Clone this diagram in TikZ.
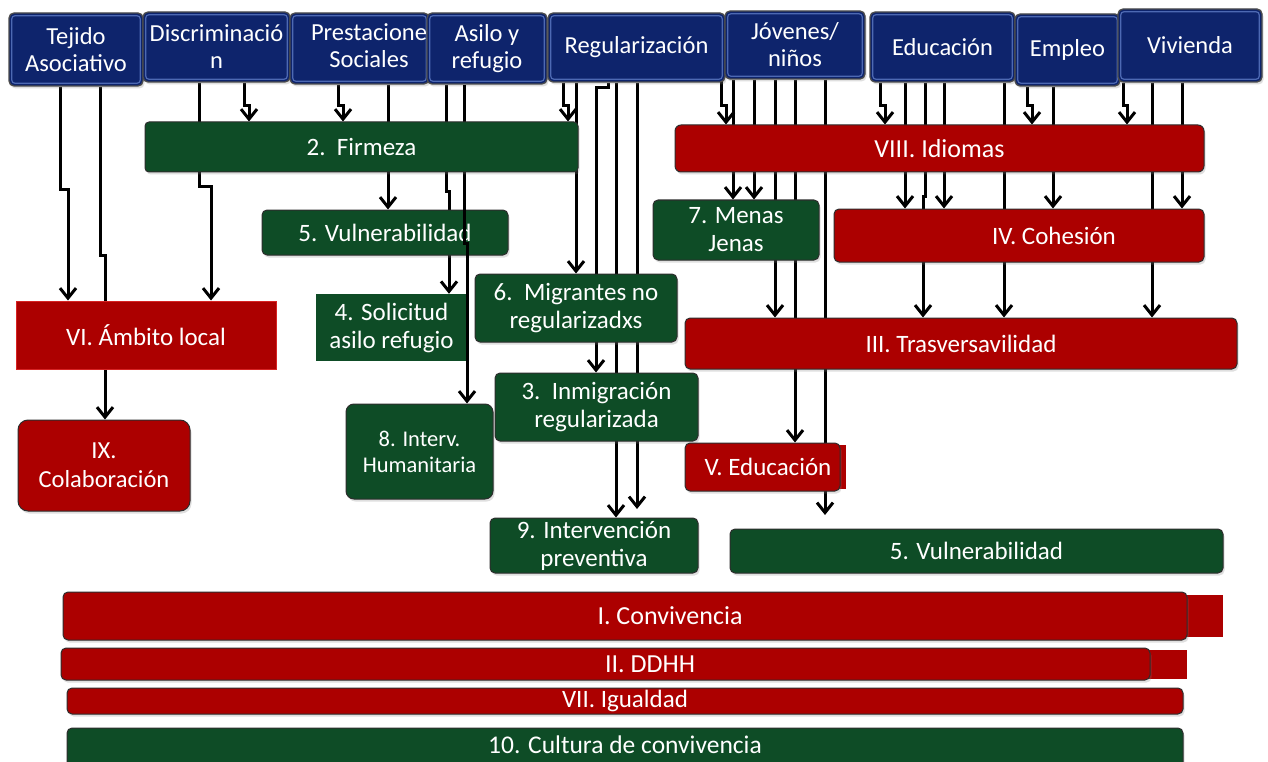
\documentclass[tikz,border=0pt]{standalone}
\usepackage{fontspec}
\setmainfont{Carlito}
\usetikzlibrary{arrows.meta,shadows}
\definecolor{navy}{RGB}{14,36,108}
\definecolor{navyrim}{RGB}{105,135,210}
\definecolor{dgreen}{RGB}{14,76,38}
\definecolor{dred}{RGB}{172,0,0}
\definecolor{lred}{RGB}{215,35,35}
\definecolor{edgec}{RGB}{45,45,45}
\pgfdeclarelayer{bottomlayer}
\pgfdeclarelayer{background}
\pgfsetlayers{bottomlayer,background,main}
\tikzset{
  box/.style={rectangle, inner sep=1pt, text=white, align=center, font=\fontsize{25}{28}\selectfont},
  shade/.style={drop shadow={opacity=0.25, shadow xshift=1.5pt, shadow yshift=-2.5pt}},
  bluebox/.style={box, rounded corners=5pt, fill=navy, draw=edgec!85, line width=1.3pt, shade,
    font=\fontsize{24.5}{27}\selectfont,
    path picture={\draw[navyrim, opacity=0.7, line width=1.2pt, rounded corners=3pt]
      ([shift={(2.8pt,-2.8pt)}]path picture bounding box.north west) rectangle
      ([shift={(-2.8pt,2.8pt)}]path picture bounding box.south east);}},
  toptext/.style={text=white, align=center, inner sep=0pt, font=\fontsize{24.5}{27}\selectfont},
  greenbox/.style={box, rounded corners=5pt, fill=dgreen, draw=edgec, line width=1pt, shade},
  greenflat/.style={box, fill=dgreen},
  redbox/.style={box, rounded corners=5pt, fill=dred, draw=edgec, line width=1pt, shade},
  redflat/.style={box, fill=dred, draw=lred, line width=1pt},
  arr/.style={line width=3pt, black, -{Straight Barb[length=10pt,width=16pt]}},
}
\begin{document}
\begin{tikzpicture}[x=1pt,y=-1pt]
\useasboundingbox (0,0) rectangle (1268,762);
\begin{pgfonlayer}{bottomlayer}
\fill[white] (0,0) rectangle (1268,762);
\end{pgfonlayer}
\clip (0,0) rectangle (1268,762);

% top blue boxes
\node[bluebox, minimum width=134pt, minimum height=73pt] (tej) at (76,49.5) {Tejido\\Asociativo};
\node[bluebox, minimum width=147pt, minimum height=70pt] (dis) at (216.5,47) {Discriminació\\n};
\node[bluebox, minimum width=139pt, minimum height=71pt] (pre) at (359.5,48.5) {};
\node[toptext] (pretxt) at (369,46) {Prestacione\\Sociales};
\node[bluebox, minimum width=120pt, minimum height=71pt] (asi) at (487,48.5) {Asilo y\\refugio};
\node[bluebox, minimum width=177pt, minimum height=69pt] (reg) at (636.5,47.5) {Regularización};
\node[bluebox, minimum width=140pt, minimum height=68pt] (jov) at (795,45) {Jóvenes/\\niños};
\node[bluebox, minimum width=145pt, minimum height=70pt] (edu) at (942.5,47) {Educación};
\node[bluebox, minimum width=105pt, minimum height=72pt] (emp) at (1067.5,50) {Empleo};
\node[bluebox, minimum width=144pt, minimum height=73pt] (viv) at (1190,45.5) {Vivienda};

% boxes under the Asilo line
\node[greenbox, minimum width=246pt, minimum height=45pt] (vula) at (385,232.5) {5. Vulnerabilidad};
\node[greenflat, minimum width=151pt, minimum height=67pt] (sol) at (391.5,327.5) {4. Solicitud\\asilo refugio};
\node[greenbox, rounded corners=8pt, minimum width=147pt, minimum height=95pt, font=\fontsize{22.5}{26}\selectfont] (int) at (419.5,451.5) {8. Interv.\\Humanitaria};

\draw[arr] (asi.south -| 464,0) -- (464,243) -- (467,243) -- (int.north -| 467,0);

% green boxes
\node[greenbox, rounded corners=4pt, minimum width=433pt, minimum height=50pt] (fir) at (361.5,147) {2.\ \ Firmeza};
\node[greenbox, minimum width=202pt, minimum height=68pt] (mig) at (576,308) {6.\ \ Migrantes no\\regularizadxs};
\node[greenbox, minimum width=203pt, minimum height=68pt] (inm) at (596.5,407) {3.\ \ Inmigración\\regularizada};
\node[greenbox, minimum width=208pt, minimum height=55pt] (prv) at (594,545.5) {9. Intervención\\preventiva};
\node[greenbox, minimum width=166pt, minimum height=60pt] (men) at (736,230) {7. Menas\\Jenas};
\node[greenbox, minimum width=493pt, minimum height=44pt] (vulb) at (976.5,551) {5. Vulnerabilidad};

% red boxes
\node[redbox, rounded corners=6pt, minimum width=529pt, minimum height=47pt, font=\fontsize{26}{28}\selectfont] (idi) at (939.5,148.5) {VIII. Idiomas};
\node[redbox, minimum width=370pt, minimum height=53pt] (coh) at (1019,235.5) {\hspace*{70pt}IV. Cohesión};
\node[redbox, minimum width=552pt, minimum height=51pt] (tra) at (961,343.5) {III. Trasversavilidad};
\node[redflat, minimum width=260pt, minimum height=68pt] (amb) at (146,335) {VI. Ámbito local};
\node[redbox, rounded corners=10pt, minimum width=172pt, minimum height=91pt, font=\fontsize{24.5}{29}\selectfont] (col) at (104,465.5) {IX.\\Colaboración};
\fill[dred] (828,445) rectangle (846,489);
\node[redbox, minimum width=155pt, minimum height=48pt] (ved) at (762.5,467) {\hspace*{11pt}V. Educación};

% bottom bars
\fill[dred] (1175,595) rectangle (1223,637);
\node[redbox, minimum width=1124pt, minimum height=48pt, font=\fontsize{26}{28}\selectfont] (con) at (625,616) {\hspace*{90pt}I. Convivencia};
\fill[dred] (1140,650) rectangle (1187,679);
\node[redbox, minimum width=1089pt, minimum height=32pt, inner sep=0pt, font=\fontsize{26}{28}\selectfont] (ddh) at (605.5,664) {\hspace*{89pt}II. DDHH};
\node[redbox, minimum width=1116pt, minimum height=26pt, inner sep=0pt] (igu) at (625,701) {VII. Igualdad};
\node[greenbox, minimum width=1116pt, minimum height=62pt] (cul) at (625,759) {};
\node[toptext, font=\fontsize{25.5}{28}\selectfont] (cultxt) at (625,745) {10. Cultura de convivencia};

\coordinate (e1) at (637,509);
\coordinate (e2) at (825,515);

\begin{pgfonlayer}{background}
% Tejido
\draw[arr] (tej.south -| 60,0) -- (60,190) -- (68,190) -- (amb.north -| 68,0);
\draw[arr] (tej.south -| 100,0) -- (100,255) -- (105,255) -- (col.north -| 105,0);
% Discriminacion
\draw[arr] (dis.south -| 199,0) -- (199,187) -- (211,187) -- (amb.north -| 211,0);
\draw[arr] (dis.south -| 244,0) -- (244,106) -- (249,106) -- (fir.north -| 249,0);
% Prestaciones
\draw[arr] (pre.south -| 338,0) -- (338,106) -- (343,106) -- (fir.north -| 343,0);
\draw[arr] (pre.south -| 388,0) -- (vula.north -| 388,0);
% Asilo
\draw[arr] (asi.south -| 446,0) -- (446,192) -- (449,192) -- (sol.north -| 449,0);
% Regularizacion
\draw[arr] (reg.south -| 563,0) -- (563,106) -- (568,106) -- (fir.north -| 568,0);
\draw[arr] (reg.south -| 576,0) -- (mig.north -| 576,0);
\draw[arr] (reg.south -| 608,0) -- (608,88) -- (596,88) -- (inm.north -| 596,0);
\draw[arr] (reg.south -| 616,0) -- (prv.north -| 616,0);
\draw[arr] (reg.south -| 637,0) -- (e1);
% Jovenes
\draw[arr] (jov.south -| 721,0) -- (721,106) -- (726,106) -- (idi.north -| 726,0);
\draw[arr] (jov.south -| 733,0) -- (men.north -| 733,0);
\draw[arr] (jov.south -| 754,0) -- (men.north -| 754,0);
\draw[arr] (jov.south -| 775,0) -- (tra.north -| 775,0);
\draw[arr] (jov.south -| 795,0) -- (ved.north -| 795,0);
\draw[arr] (jov.south -| 825,0) -- (e2);
% Educacion
\draw[arr] (edu.south -| 880,0) -- (880,106) -- (885,106) -- (idi.north -| 885,0);
\draw[arr] (edu.south -| 905,0) -- (coh.north -| 905,0);
\draw[arr] (edu.south -| 925,0) -- (925,197) -- (923,197) -- (tra.north -| 923,0);
\draw[arr] (edu.south -| 944,0) -- (coh.north -| 944,0);
\draw[arr] (edu.south -| 1004,0) -- (tra.north -| 1004,0);
% Empleo
\draw[arr] (emp.south -| 1027,0) -- (1027,106) -- (1032,106) -- (idi.north -| 1032,0);
\draw[arr] (emp.south -| 1053,0) -- (coh.north -| 1053,0);
% Vivienda
\draw[arr] (viv.south -| 1123,0) -- (1123,106) -- (1127,106) -- (idi.north -| 1127,0);
\draw[arr] (viv.south -| 1152,0) -- (tra.north -| 1152,0);
\draw[arr] (viv.south -| 1182,0) -- (coh.north -| 1182,0);
\end{pgfonlayer}
\end{tikzpicture}
\end{document}
